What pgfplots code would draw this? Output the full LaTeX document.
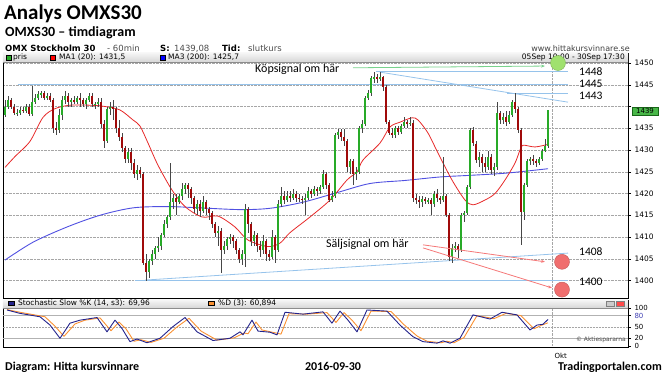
\documentclass[border=0pt]{standalone}
\usepackage{fontspec}
\setmainfont{DejaVu Sans}
\newfontfamily\carlito{Carlito}
\usepackage{pgfplots}
\pgfplotsset{compat=1.18}
\usepackage{pgfplotstable}
\usetikzlibrary{arrows.meta}

\definecolor{cgreen}{RGB}{40,170,40}
\definecolor{cred}{RGB}{160,10,10}
\definecolor{wick}{RGB}{70,70,70}
\definecolor{ma1}{RGB}{230,40,40}
\definecolor{ma3}{RGB}{80,80,225}
\definecolor{lblue}{RGB}{150,195,235}
\definecolor{lgreen}{RGB}{120,210,140}
\definecolor{lred}{RGB}{245,120,120}
\definecolor{cfillg}{RGB}{160,225,110}
\definecolor{cfillr}{RGB}{240,110,110}
\definecolor{kblue}{RGB}{35,35,140}
\definecolor{dorange}{RGB}{250,145,50}

\pgfplotstableread{
x o h l c
5 1438 1441.5 1437.5 1440
8 1440 1442.5 1439.5 1441.5
11 1441.5 1442 1439.5 1440
14 1440 1440.5 1438 1438.5
17 1438.5 1439.5 1437.8 1438.6
20 1438.6 1439.8 1438 1439.3
23 1439.3 1440 1438.5 1439
26 1439 1440.5 1438.5 1440
29 1440 1440.5 1437.8 1438.2
32 1438.2 1444.7 1437.8 1441
35 1441 1442.8 1440.5 1442
38 1442 1443.5 1441.5 1442.8
41 1442.8 1443.5 1442 1443
44 1443 1443.5 1441.5 1442
47 1442 1443 1441.5 1442.5
50 1442.5 1443 1441 1441.5
53 1441.5 1442 1434 1435
56 1435 1436.5 1433.5 1434.5
59 1434.5 1439.5 1434 1438
62 1438 1442.5 1437 1441.5
65 1441.5 1443.5 1440.5 1442.5
68 1442.5 1443 1440 1441
71 1441 1442 1440 1441.5
74 1441.5 1442.5 1440.5 1441
77 1441 1442.5 1440.5 1442
80 1442 1443 1440 1441.5
83 1441.5 1442 1440 1440.5
86 1440.5 1442 1439.5 1441.5
89 1441.5 1443 1441 1442.5
92 1442.5 1443 1440 1440.5
95 1440.5 1441 1439.5 1440.6
98 1440.6 1442 1440 1441
101 1441 1442 1435 1436
104 1436 1437 1430.5 1432
107 1432 1440 1431.5 1439.5
110 1439.5 1441 1438 1440
113 1440 1441.5 1437 1439.5
116 1439.5 1440 1434 1435
119 1435 1437 1432 1433
122 1433 1434 1429.5 1430.5
125 1430.5 1431 1427 1428
128 1428 1430.5 1427 1429.5
131 1429.5 1430.5 1425.5 1427
134 1427 1428 1423.5 1424.5
137 1424.5 1426.5 1423 1425.5
140 1425.5 1426 1423.5 1424.5
143 1424.5 1425 1403.5 1404
146 1404 1406 1400 1402
149 1402 1405 1400.5 1404.5
152 1404.5 1407 1403.5 1406
155 1406 1408 1405 1407.5
158 1407.5 1410 1406.5 1408
161 1408 1411 1407 1410.5
164 1410.5 1414 1410 1413
167 1413 1415 1412 1414.5
170 1414.5 1427 1414 1418
173 1418 1420 1416.5 1419
176 1419 1420 1415 1418
179 1418 1420 1417.5 1419.5
182 1419.5 1422.5 1418.5 1421
185 1421 1422.5 1420 1422
188 1422 1422.5 1419 1421
191 1421 1421.5 1417.5 1419
194 1419 1419.5 1415.5 1416.5
197 1416.5 1418.5 1415 1417.5
200 1417.5 1418.5 1414.5 1416
203 1416 1419.5 1415.5 1418
206 1418 1418.5 1415 1416.5
209 1416.5 1417 1414 1415.5
212 1415.5 1416 1412 1413
215 1413 1413.5 1410 1411
218 1411 1412.5 1408 1411.5
221 1411.5 1412 1401.7 1407
224 1407 1409 1406 1408
227 1408 1410 1407 1409.5
230 1409.5 1410.8 1408.5 1410
233 1410 1410.5 1407.5 1409
236 1409 1409.5 1406 1407
239 1407 1407.5 1404 1405
242 1405 1407 1403.5 1406
245 1406 1417.5 1403 1416.5
248 1416.5 1417 1411 1413
251 1413 1413.5 1408 1409
254 1409 1411.5 1408 1410.5
257 1410.5 1411 1406.5 1408
260 1408 1409 1405.5 1407
263 1407 1410.5 1406 1409
266 1409 1409.5 1404.5 1406
269 1406 1407 1404.5 1405.5
272 1405.5 1411.5 1405 1410
275 1410 1410.5 1404 1407
278 1407 1418.5 1406.5 1417.5
281 1417.5 1421.5 1417 1419.5
284 1419.5 1420.5 1417.5 1418.5
287 1418.5 1420.5 1418 1419.5
290 1419.5 1420.5 1418 1419
293 1419 1421 1418.5 1420
296 1420 1420.5 1418 1419
299 1419 1419.8 1418 1418.8
302 1418.8 1419.5 1417.5 1418.5
305 1418.5 1420 1415 1419
308 1419 1421.5 1418.5 1420.5
311 1420.5 1421 1419 1420
314 1420 1421.8 1419.5 1421
317 1421 1421.5 1419.5 1420.5
320 1420.5 1422 1420 1421.5
323 1421.5 1425.5 1421 1424.5
326 1424.5 1425 1421 1422
329 1422 1422.5 1418 1418.5
332 1418.5 1420.5 1418 1419.5
335 1419.5 1434 1419 1433.5
338 1433.5 1434.8 1432.5 1434.2
341 1434.2 1434.8 1432 1433
344 1433 1434.8 1431 1432
347 1432 1432.5 1425 1426
350 1426 1428 1424.5 1427.5
353 1427.5 1428 1422 1424.5
356 1424.5 1426 1423 1425
359 1425 1435.5 1424.5 1435
362 1435 1436.8 1434 1436
365 1436 1442.5 1435.5 1442
368 1442 1443.8 1441.5 1443
371 1443 1447 1442.5 1446.5
374 1446.5 1448 1445.5 1446.8
377 1446.8 1447.5 1445.5 1446.5
380 1446.5 1448 1445.8 1446.8
383 1446.8 1447 1443.5 1444.5
386 1444.5 1445 1436 1436.5
389 1436.5 1437 1433.5 1434
392 1434 1435 1432.8 1433.5
395 1433.5 1435.5 1432.8 1435
398 1435 1435.5 1433.5 1434.2
401 1434.2 1436 1433.8 1435.5
404 1435.5 1437.5 1435 1436.5
407 1436.5 1437 1435 1436
410 1436 1437.6 1435.5 1436.3
413 1436.3 1436.8 1418 1419
416 1419 1420 1417.5 1418.5
419 1418.5 1419.5 1416.7 1418
422 1418 1419.5 1417 1418.8
425 1418.8 1419.2 1417.5 1418.2
428 1418.2 1419 1417.5 1418.5
431 1418.5 1419 1415 1417.5
434 1417.5 1420.5 1417 1420
437 1420 1421 1418 1419
440 1419 1419.5 1417.5 1418.5
443 1418.5 1428.4 1418 1419.5
446 1419.5 1420 1414.5 1415
449 1415 1415.5 1404.5 1405.5
452 1405.5 1408.5 1404 1407.5
455 1407.5 1408.8 1406.5 1408
458 1408 1408.5 1405.2 1407
461 1407 1415.5 1406.5 1415
464 1415 1416 1413.5 1415.5
467 1415.5 1422 1415 1421.5
470 1421.5 1435 1421 1434.5
473 1434.5 1435.2 1431 1431.5
476 1431.5 1432 1427 1427.8
479 1427.8 1429.5 1426 1428.5
482 1428.5 1429 1425 1427
485 1427 1428.5 1425 1426
488 1426 1429.8 1425.5 1428.5
491 1428.5 1429 1424.5 1425.5
494 1425.5 1427 1424 1426
497 1426 1441 1425.5 1438.5
500 1438.5 1439 1436 1437
503 1437 1438.5 1436 1437.5
506 1437.5 1439 1435.5 1436.5
509 1436.5 1439 1436 1438
512 1438 1441.5 1437.5 1441
515 1441 1443 1438.5 1439.5
518 1439.5 1440 1434 1434.5
521 1434.5 1435 1408.2 1415.7
524 1415.7 1422.5 1413.9 1422
527 1422 1428 1421.5 1427.5
530 1427.5 1428.5 1426.5 1428
533 1428 1428.8 1426.5 1427.5
536 1427.5 1428 1426.2 1427
539 1427 1428.5 1426.5 1428
542 1428 1430.2 1427.5 1429.8
545 1429.8 1432.5 1429.5 1431
548 1431 1439.3 1430.5 1439.1
}\candles

\begin{document}
\begin{tikzpicture}
\path[use as bounding box] (0,0) rectangle (670pt,377pt);

% headings
\node[anchor=base west, inner sep=0, font=\carlito\bfseries\fontsize{21}{24}\selectfont] at (4pt,357pt) {Analys OMXS30};
\node[anchor=base west, inner sep=0, font=\carlito\bfseries\fontsize{14}{16}\selectfont] at (5pt,340pt) {OMXS30 – timdiagram};
\begin{scope}[every node/.style={anchor=base west, inner sep=0, font=\fontsize{8.5}{9}\selectfont}]
\node at (5pt,325.5pt) {\bfseries OMX Stockholm 30};
\node[text=black!70] at (107pt,325.5pt) {- 60min};
\node at (160pt,325.5pt) {\bfseries S:};
\node[text=black!70] at (174pt,325.5pt) {1439,08};
\node at (222pt,325.5pt) {\bfseries Tid:};
\node[text=black!70] at (248pt,325.5pt) {slutkurs};
\end{scope}
\node[anchor=base east, inner sep=0, font=\fontsize{8}{9}\selectfont, text=black!75] at (630pt,325.5pt) {www.hittakursvinnare.se};

% main price axis
\begin{axis}[
  at={(3pt,79pt)}, anchor=south west, scale only axis,
  width=625pt, height=245pt,
  xmin=3, xmax=628, ymin=1395.98, ymax=1452.3,
  clip mode=individual,
  axis line style={black, line width=0.8pt},
  ytick={1400,1405,...,1450},
  yticklabels={1400,1405,1410,1415,1420,1425,1430,1435,,1445,1450},
  ytick pos=right, yticklabel pos=right,
  tick align=outside, major tick length=3pt,
  tick style={black, line width=0.5pt},
  yticklabel style={font=\fontsize{7.5}{8}\selectfont},
  xtick={552}, xticklabels={}, xtick style={draw=none},
  xmajorgrids, ymajorgrids,
  major grid style={densely dotted, black!35, line width=0.5pt},
]
% legend band
\shade[top color=black!4, bottom color=black!16] (axis cs:3,1450.23) rectangle (axis cs:628,1452.3);
\draw[black!45, line width=0.4pt] (axis cs:3,1450.23) -- (axis cs:628,1450.23);
\fill[cgreen, draw=black, line width=0.3pt] (axis cs:6,1450.7) rectangle (axis cs:11,1451.85);
\fill[red, draw=black, line width=0.3pt] (axis cs:50,1450.7) rectangle (axis cs:55,1451.85);
\fill[blue, draw=black, line width=0.3pt] (axis cs:160,1450.7) rectangle (axis cs:165,1451.85);
\begin{scope}[every node/.style={anchor=west, inner sep=0, font=\fontsize{7.5}{8}\selectfont}]
\node at (axis cs:13,1451.26) {pris};
\node at (axis cs:59,1451.26) {MA1 (20): 1431,5};
\node at (axis cs:168,1451.26) {MA3 (200): 1425,7};
\node[anchor=east] at (axis cs:625,1451.26) {05Sep 10:00 - 30Sep 17:30};
\end{scope}

% trend and level lines
\draw[lblue, line width=0.8pt] (axis cs:18,1445) -- (axis cs:568,1445);
\draw[lblue, line width=0.8pt] (axis cs:376,1448.1) -- (axis cs:568,1448.1);
\draw[lblue, line width=0.8pt] (axis cs:380,1447.9) -- (axis cs:568,1441.0);
\draw[lblue, line width=0.8pt] (axis cs:507,1443.1) -- (axis cs:568,1443.1);
\draw[lblue, line width=0.8pt] (axis cs:145,1400.1) -- (axis cs:568,1406.3);
\draw[lblue, line width=0.8pt] (axis cs:135,1400) -- (axis cs:568,1400);

% MA lines
\addplot[ma3, line width=0.9pt, smooth] coordinates {(5,1404.7) (33,1408.8) (67,1412.3) (100,1415) (133,1416.7) (167,1417) (200,1416.7) (240,1416.3) (270,1416.6) (303,1418) (337,1420.2) (370,1422.3) (405,1423) (440,1423.8) (472,1424.2) (507,1424.7) (548,1425.7)};
\addplot[ma1, line width=0.8pt, smooth, tension=0.5] coordinates {(5,1426) (15,1428.5) (30,1432) (43,1437.5) (55,1439.5) (70,1440.3) (90,1440.3) (105,1440) (120,1439.2) (133,1436.9) (140,1435.5) (148,1431.6) (158,1426.5) (172,1420.8) (185,1417) (202,1414.6) (218,1414.8) (235,1412.3) (248,1409.3) (268,1407.8) (280,1408.6) (290,1411) (310,1414.6) (330,1418.5) (347,1423.1) (357,1425) (363,1427.7) (380,1431.6) (390,1435.3) (400,1436.4) (412,1437.4) (418,1436.9) (428,1433.9) (438,1429.3) (452,1423.1) (465,1418.5) (473,1417.4) (485,1418.5) (495,1420) (505,1423.1) (515,1427) (520,1430) (523,1431.1) (535,1430.7) (548,1431.3)};

% candles: wicks
\addplot[draw=none, forget plot, error bars/.cd, y dir=both, y explicit, error mark=none,
  error bar style={draw=wick, line width=0.6pt}]
  table[x=x, y expr={(\thisrow{h}+\thisrow{l})/2}, y error expr={(\thisrow{h}-\thisrow{l})/2}] {\candles};
% body outlines
\addplot[draw=none, forget plot, error bars/.cd, y dir=both, y explicit, error mark=none,
  error bar style={draw=black!65, line width=2.9pt}]
  table[x=x, y expr={(\thisrow{o}+\thisrow{c})/2}, y error expr={abs(\thisrow{c}-\thisrow{o})/2}] {\candles};
% up bodies
\addplot[draw=none, forget plot, error bars/.cd, y dir=both, y explicit, error mark=none,
  error bar style={draw=cgreen, line width=1.9pt}]
  table[x=x, y expr={\thisrow{c}>=\thisrow{o} ? (\thisrow{o}+\thisrow{c})/2 : 2000}, y error expr={abs(\thisrow{c}-\thisrow{o})/2}] {\candles};
% down bodies
\addplot[draw=none, forget plot, error bars/.cd, y dir=both, y explicit, error mark=none,
  error bar style={draw=cred, line width=1.9pt}]
  table[x=x, y expr={\thisrow{c}<\thisrow{o} ? (\thisrow{o}+\thisrow{c})/2 : 2000}, y error expr={abs(\thisrow{c}-\thisrow{o})/2}] {\candles};

% signal arrows
\draw[lgreen, line width=0.8pt, -{Stealth[length=4pt]}] (axis cs:353,1448.9) -- (axis cs:545,1449.3);
\draw[lred, line width=0.8pt, -{Stealth[length=4pt]}] (axis cs:423,1408.2) -- (axis cs:545,1404.3);
\draw[lred, line width=0.8pt, -{Stealth[length=4pt]}] (axis cs:423,1407.5) -- (axis cs:552,1398.3);

% signal circles
\addplot[only marks, mark=*, mark size=7.5pt, mark options={fill=cfillg, draw=cfillg!80!black, line width=0.4pt}] coordinates {(558,1450)};
\addplot[only marks, mark=*, mark size=7.5pt, mark options={fill=cfillr, draw=cfillr!80!black, line width=0.4pt}] coordinates {(562,1404.3) (562,1397.9)};

% annotation text
\begin{scope}[every node/.style={anchor=west, inner sep=0, font=\carlito\fontsize{11.5}{12}\selectfont}]
\node at (axis cs:579,1448.0) {1448};
\node at (axis cs:579,1445.2) {1445};
\node at (axis cs:579,1442.4) {1443};
\node at (axis cs:579,1406.7) {1408};
\node at (axis cs:579,1399.7) {1400};
\end{scope}
\begin{scope}[every node/.style={anchor=west, inner sep=0, font=\carlito\fontsize{12}{14}\selectfont}]
\node at (axis cs:255,1448.5) {Köpsignal om här};
\node at (axis cs:326,1408.4) {Säljsignal om här};
\end{scope}
\end{axis}

% last price box
\node[fill=cgreen!85!white, draw=cgreen!60!black, line width=0.4pt, inner sep=0.6pt, minimum width=26pt, minimum height=7.5pt, font=\fontsize{7}{7}\selectfont] at (645pt,266pt) {1439};

% stochastic axis
\begin{axis}[
  at={(3pt,30pt)}, anchor=south west, scale only axis,
  width=625pt, height=47pt,
  xmin=3, xmax=628, ymin=-3.2, ymax=121.5,
  clip mode=individual,
  axis line style={black, line width=0.8pt},
  ytick={0,20,50,80,100}, yticklabels={0,20,50,{\textcolor{ma3!80!black}{80}},100},
  ytick pos=right, yticklabel pos=right,
  tick align=outside, major tick length=3pt,
  tick style={black, line width=0.5pt},
  yticklabel style={font=\fontsize{7}{7}\selectfont},
  xtick={552}, xticklabels={Okt}, xtick style={draw=none},
  xticklabel style={font=\fontsize{7}{8}\selectfont, anchor=north west, xshift=-1pt},
  xmajorgrids, major grid style={densely dotted, black!35, line width=0.5pt},
]
\shade[top color=black!4, bottom color=black!16] (axis cs:3,100) rectangle (axis cs:628,121.5);
\draw[black!45, line width=0.4pt] (axis cs:3,100) -- (axis cs:628,100);
\draw[black!30, line width=0.5pt] (axis cs:3,80) -- (axis cs:628,80);
\draw[black!30, line width=0.5pt] (axis cs:3,20) -- (axis cs:628,20);
\draw[black!35, densely dotted, line width=0.5pt] (axis cs:3,50) -- (axis cs:628,50);
\fill[kblue, draw=black, line width=0.3pt] (axis cs:8,106.5) rectangle (axis cs:14,119);
\fill[dorange, draw=black, line width=0.3pt] (axis cs:208,106.5) rectangle (axis cs:214,119);
\begin{scope}[every node/.style={anchor=west, inner sep=0, font=\fontsize{7.5}{8}\selectfont}]
\node at (axis cs:18,112.7) {Stochastic Slow \%K (14, s3): 69,96};
\node at (axis cs:218,112.7) {\%D (3): 60,894};
\end{scope}
\fill[black!20, draw=black!50, line width=0.3pt] (axis cs:606,104) rectangle (axis cs:614,119);
\fill[red!70, draw=black!50, line width=0.3pt] (axis cs:616,104) rectangle (axis cs:624,119);
\node[anchor=east, inner sep=0, font=\fontsize{6}{6}\selectfont, text=black!70] at (axis cs:626,15.5) {© Aktiespararna};

\addplot[dorange, line width=0.9pt, line join=round] coordinates {(7,96) (22,88) (45,77) (55,52) (64,25) (75,58) (85,68) (100,74) (111,40) (119,63) (126,45) (134,12) (141,16) (151,9) (164,20) (177,50) (189,73) (201,39) (217,15) (234,21) (244,34) (248,32) (256,63) (262,42) (274,35) (281,31) (289,85) (307,84) (327,88) (336,62) (344,88) (352,68) (361,40) (371,92) (391,91) (404,56) (417,26) (427,12) (441,8) (447,12) (454,8) (464,22) (477,80) (494,72) (506,86) (521,80) (534,45) (541,54) (548,61)};
\addplot[kblue, line width=0.9pt, line join=round] coordinates {(7,95) (20,86) (40,77) (50,55) (60,20) (70,60) (80,68) (97,75) (107,37) (115,68) (122,46) (130,11) (137,18) (147,8) (160,20) (173,51) (185,75) (197,37) (213,14) (230,20) (240,37) (243,29) (252,68) (258,39) (270,36) (277,29) (285,89) (303,84) (323,90) (332,60) (340,92) (348,68) (357,37) (367,95) (387,92) (400,55) (413,24) (423,11) (437,7) (443,13) (450,7) (460,20) (473,82) (490,71) (502,89) (517,82) (530,42) (537,55) (543,57) (548,70)};
\end{axis}

% footer
\node[anchor=base west, inner sep=0, font=\carlito\bfseries\fontsize{12}{14}\selectfont] at (5pt,6pt) {Diagram: Hitta kursvinnare};
\node[anchor=base, inner sep=0, font=\carlito\bfseries\fontsize{12}{14}\selectfont] at (333pt,6pt) {2016-09-30};
\node[anchor=base east, inner sep=0, font=\carlito\bfseries\fontsize{12}{14}\selectfont] at (662pt,6pt) {Tradingportalen.com};
\end{tikzpicture}
\end{document}
